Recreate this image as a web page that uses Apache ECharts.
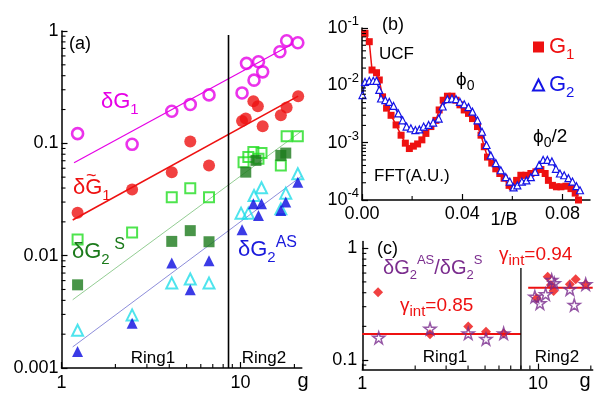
<!DOCTYPE html>
<html>
<head>
<meta charset="utf-8">
<script src="https://cdn.jsdelivr.net/npm/echarts@6/dist/echarts.min.js"></script>
<style>html,body{margin:0;background:#fff}#main{width:600px;height:394px}</style>
</head>
<body>
<div id="main"></div>
<script>
var FONT = "'Liberation Sans', Arial, sans-serif";

// ---- panel (a): fluctuation amplitude vs g ----
var dG1 = [[1.23,0.122],[2.48,0.098],[4.13,0.193],[5.24,0.222],[6.67,0.270],[10.2,0.281],[10.8,0.515],
  [12.6,0.532],[13.3,0.433],[11.9,0.365],[16.6,0.653],[18.1,0.819],[20.9,0.787]];
var dG1t = [[1.23,0.0241],[2.48,0.0388],[4.13,0.0554],[5.24,0.1036],[6.67,0.0636],[10.2,0.158],[10.7,0.166],
  [11.8,0.237],[12.5,0.214],[13.3,0.142],[16.8,0.178],[18.1,0.208],[21.0,0.263]];
var dG2S_open = [[1.23,0.0139],[2.48,0.0161],[4.13,0.0332],[5.24,0.0399],[6.67,0.0332],[10.4,0.068],
  [11.06,0.0755],[11.8,0.0836],[12.6,0.073],[13.1,0.0819],[16.8,0.0636],[18.1,0.1155],[20.9,0.1155]];
var dG2S_full = [[1.23,0.0055],[4.13,0.0134],[5.24,0.0167],[6.67,0.0133],[10.7,0.0554],[12.2,0.0705],
  [16.8,0.0781],[17.9,0.0819]];
var dG2AS_open = [[1.23,0.00217],[2.48,0.00297],[4.13,0.0057],[5.24,0.0062],[6.67,0.0057],[10.07,0.0239],
  [11.06,0.0239],[11.9,0.0343],[13.1,0.0402],[16.8,0.0261],[17.9,0.036],[20.9,0.0536]];
var dG2AS_full = [[1.23,0.0014],[2.48,0.0025],[4.13,0.0086],[5.24,0.00497],[6.67,0.0090],[10.2,0.0170],
  [11.8,0.029],[12.6,0.0228],[13.1,0.029],[16.8,0.0252],[17.9,0.030],[20.9,0.0451]];
var fitG1 = [[1.175,0.0673],[19.5,0.767]];
var fitG1t = [[1.155,0.0208],[21.0,0.263]];
var fitG2S = [[1.155,0.00405],[22,0.129]];
var fitG2AS = [[1.155,0.00154],[22,0.0512]];
var ringA = [[8.57,0.001],[8.57,0.92]];

// ---- panel (b): FFT spectra vs 1/B ----
var fftX1 = [0.0012,0.0029,0.004,0.0058,0.0069,0.0082,0.0098,0.0116,0.0136,0.0156,0.0173,0.0189,0.0205,0.0222,
  0.0239,0.0255,0.0275,0.0295,0.0308,0.0324,0.0341,0.0359,0.0375,0.0391,0.0408,0.0425,0.0441,0.0461,0.0475,
  0.0488,0.0501,0.0518,0.0534,0.055,0.0567,0.0587,0.06,0.0617,0.0634,0.0654,0.0674,0.0694,0.0714,0.0731,
  0.0744,0.076,0.0776,0.0794,0.0814,0.0834,0.0851,0.0864];
var fftG1 = [0.0807,0.0577,0.0185,0.0166,0.0124,0.0063,0.0040,0.0030,0.00204,0.00135,0.00098,0.00079,0.00087,
  0.00095,0.00112,0.00145,0.00191,0.00245,0.00372,0.0055,0.00646,0.00646,0.0055,0.00457,0.00372,0.00324,
  0.00263,0.00191,0.00135,0.00085,0.00056,0.00044,0.00035,0.00029,0.00024,0.00018,0.00017,0.00022,0.00027,
  0.00027,0.00029,0.00031,0.00034,0.00029,0.00022,0.00018,0.00017,0.00017,0.000174,0.000158,0.000132,0.0001];
var fftX2 = [0.0002,0.0012,0.0029,0.0045,0.0058,0.0069,0.0076,0.0093,0.0109,0.0126,0.0145,0.0162,0.0178,0.0195,
  0.0213,0.0229,0.0246,0.0266,0.0284,0.0306,0.0322,0.0341,0.0359,0.0375,0.0391,0.0408,0.0425,0.0441,0.0461,
  0.0479,0.0497,0.0514,0.0534,0.0554,0.0574,0.059,0.0605,0.062,0.0638,0.0656,0.0674,0.0691,0.0707,0.0723,
  0.074,0.0758,0.0774,0.079,0.0807,0.0824,0.084,0.0856,0.087];
var fftG2 = [0.00676,0.01148,0.0120,0.0120,0.0120,0.00832,0.00589,0.0055,0.00513,0.00437,0.00324,0.00245,
  0.00191,0.00178,0.00166,0.0017,0.00191,0.00204,0.00224,0.00263,0.00427,0.00575,0.00589,0.00575,0.00513,
  0.00468,0.00417,0.00347,0.00245,0.00155,0.00091,0.0006,0.00044,0.00033,0.00025,0.00021,0.000166,0.00018,
  0.00021,0.00022,0.00025,0.00031,0.00041,0.0005,0.0005,0.00047,0.00035,0.00029,0.00027,0.00024,0.00021,
  0.000174,0.000148];

// ---- panel (c): ratio vs g ----
var ratioDia = [[1.23,0.404],[2.43,0.170],[4.01,0.199],[5.06,0.179],[6.38,0.173],[9.83,0.357],[11.36,0.557],
  [11.86,0.469],[12.28,0.415],[15.2,0.476],[16.4,0.528],[18.7,0.476]];
var ratioStar = [[1.24,0.158],[2.43,0.190],[4.01,0.173],[5.06,0.154],[6.38,0.173],[9.6,0.369],[10.26,0.322],
  [11.06,0.388],[11.97,0.520],[12.38,0.486],[15.2,0.430],[16.1,0.311],[18.7,0.476]];
var gamma1 = [[1,0.171],[8.0,0.171]];
var gamma2 = [[8.8,0.444],[20.5,0.444]];
var ringC = [[8.0,0.082],[8.0,0.667]];

// minor tick positions
var minorG = [2,3,4,5,6,7,8,9,20];
var minorB = [0.02,0.06];
function decadeTicks(lo, hi) {
  var t = [];
  for (var d = lo; d < hi; d *= 10) for (var k = 2; k <= 9; k++) t.push(+(k * d).toPrecision(3));
  return t;
}

function zip(xs, ys) { return xs.map(function (x, i) { return [x, ys[i]]; }); }

var myChart = echarts.init(document.getElementById('main'));

function mainAxis(grid, type, min, max, extra) {
  var ax = {
    type: type, gridIndex: grid, min: min, max: max, position: extra.pos,
    axisLine: {show: true, onZero: false, lineStyle: {color: '#000', width: 1.5}},
    axisTick: {show: true, inside: true, length: 6, lineStyle: {color: '#000', width: 1.2}},
    axisLabel: {color: '#000', fontSize: 18, fontFamily: FONT, margin: extra.margin || 4,
      showMinLabel: extra.showMin !== false, showMaxLabel: !!extra.showMax, formatter: extra.fmt},
    splitLine: {show: false}
  };
  if (type === 'log') ax.logBase = 10;
  if (type === 'value') ax.interval = extra.interval;
  return ax;
}

// minor ticks drawn through the axes' own scales
function minorTicks(xi, vals, dim, ref, len) {
  return {
    type: 'custom', xAxisIndex: xi, yAxisIndex: xi, silent: true, clip: false, z: 10,
    data: vals.map(function (v) { return dim === 'x' ? [v, ref] : [ref, v]; }),
    renderItem: function (params, api) {
      var cs = params.coordSys;
      var p = api.coord([api.value(0), api.value(1)]);
      var shape = dim === 'x'
        ? {x1: p[0], y1: cs.y + cs.height, x2: p[0], y2: cs.y + cs.height - len}
        : {x1: cs.x, y1: p[1], x2: cs.x + len, y2: p[1]};
      return {type: 'line', shape: shape, style: {stroke: '#000', lineWidth: 1.1}};
    }
  };
}

var supFmt = function (v) { return '{b|10}{e|' + Math.round(Math.log10(v)) + '}'; };

function mkRich(m, s, p) {
  return {
    m: {fontSize: m, fontFamily: FONT, lineHeight: m + 8},
    s: {fontSize: s, fontFamily: FONT, lineHeight: s - 1, verticalAlign: 'bottom'},
    p: {fontSize: p, fontFamily: FONT, lineHeight: p - 1, verticalAlign: 'top'}
  };
}
var rich = mkRich(22, 15, 16);
function txt(x, y, text, color, size, align, r) {
  return {type: 'text', x: x, y: y, z: 100, style: {text: text, fill: color, font: size + 'px ' + FONT,
    textAlign: align || 'left', textVerticalAlign: 'middle', rich: r || rich}};
}

var starPath = 'path://M50,2 L61,36 L97,36 L68,57 L79,92 L50,71 L21,92 L32,57 L3,36 L39,36 Z';

function scat(xi, data, sym, size, color, open, bw) {
  return {type: 'scatter', xAxisIndex: xi, yAxisIndex: xi, data: data, symbol: sym, symbolSize: size,
    itemStyle: open ? {color: 'rgba(255,255,255,0)', borderColor: color, borderWidth: bw || 2.2} : {color: color},
    z: 5};
}
function line(xi, data, color, w) {
  return {type: 'line', xAxisIndex: xi, yAxisIndex: xi, data: data, symbol: 'none',
    lineStyle: {color: color, width: w}, z: 3};
}

var option = {
  animation: false,
  backgroundColor: '#fff',
  grid: [
    {left: 61.5, top: 31, width: 240.3, height: 337},
    {left: 362, top: 28, width: 228, height: 172},
    {left: 362.3, top: 241.5, width: 230.4, height: 128.1}
  ],
  xAxis: [
    mainAxis(0, 'log', 1, 22, {pos: 'bottom', margin: 6}),
    mainAxis(1, 'value', 0, 0.091, {pos: 'bottom', interval: 0.04, margin: 5,
      fmt: function (v) { return v.toFixed(2); }}),
    mainAxis(2, 'log', 1, 20.5, {pos: 'bottom', margin: 5})
  ],
  yAxis: [
    mainAxis(0, 'log', 0.001, 1, {pos: 'left', margin: 3, showMax: true}),
    mainAxis(1, 'log', 0.0001, 0.1, {pos: 'left', margin: 3, fmt: supFmt, showMax: true}),
    mainAxis(2, 'log', 0.082, 1.15, {pos: 'left', margin: 5, showMin: false})
  ],
  legend: {
    left: 527, top: 31, orient: 'vertical', itemGap: 12, itemWidth: 11, itemHeight: 11,
    data: [{name: 'G1', icon: 'rect', textStyle: {color: '#ee1111'}},
           {name: 'G2', icon: 'triangle', textStyle: {color: '#1414e6'}}],
    formatter: function (n) { return '{m|G}{s|' + n.slice(1) + '}'; },
    textStyle: {fontFamily: FONT, rich: rich}
  },
  series: [
    minorTicks(0, minorG, 'x', 0.01, 4),
    minorTicks(0, decadeTicks(0.001, 1), 'y', 2, 4),
    minorTicks(1, minorB, 'x', 0.01, 4),
    minorTicks(1, decadeTicks(0.0001, 0.1), 'y', 0.01, 4),
    minorTicks(2, minorG, 'x', 0.5, 4),
    minorTicks(2, [0.09].concat(decadeTicks(0.1, 1)), 'y', 2, 4),

    line(0, fitG1, '#e600e6', 1.2),
    line(0, fitG1t, '#ee1111', 1.6),
    line(0, fitG2S, '#77c077', 0.8),
    line(0, fitG2AS, '#7070d0', 0.8),
    line(0, ringA, '#000', 1.6),
    scat(0, dG1, 'circle', 11, '#e600e6', true, 2.6),
    scat(0, dG1t, 'circle', 12, '#ee1111', false),
    scat(0, dG2S_open, 'rect', 10, '#22dd22', true, 2),
    scat(0, dG2S_full, 'rect', 11, '#1b7a1b', false),
    scat(0, dG2AS_open, 'triangle', 11, '#22dde8', true, 2),
    scat(0, dG2AS_full, 'triangle', 11, '#0a0ae0', false),

    {type: 'line', name: 'G1', xAxisIndex: 1, yAxisIndex: 1, data: zip(fftX1, fftG1), symbol: 'rect',
      symbolSize: 7, itemStyle: {color: '#ee1111'}, lineStyle: {color: '#ee1111', width: 1.5}, z: 4},
    {type: 'line', name: 'G2', xAxisIndex: 1, yAxisIndex: 1, data: zip(fftX2, fftG2), symbol: 'triangle',
      symbolSize: 7, itemStyle: {color: '#fff', borderColor: '#1414e6', borderWidth: 1.2},
      lineStyle: {color: '#1414e6', width: 1.5}, z: 5},

    line(2, gamma1, '#ee1111', 2),
    line(2, gamma2, '#ee1111', 2),
    line(2, ringC, '#000', 1.3),
    scat(2, ratioDia, 'diamond', 10, '#ee1111', false),
    scat(2, ratioStar, starPath, 12, '#7b2d8e', true, 1.5)
  ],
  graphic: [
    txt(69, 44, '(a)', '#000', 18),
    txt(101, 102, '{m|δG}{s|1}', '#e600e6', 22),
    txt(73, 188, '{m|δG}{s|1}', '#ee1111', 22),
    txt(86, 176, '~', '#ee1111', 18),
    txt(72, 252, '{m|δG}{s|2}{p| S}', '#1b7a1b', 22),
    txt(238, 250, '{m|δG}{s|2}{p|AS}', '#1a1adc', 22),
    txt(153, 358, 'Ring1', '#000', 17, 'center'),
    txt(264, 358, 'Ring2', '#000', 17, 'center'),
    txt(303, 381, 'g', '#000', 20, 'center'),

    txt(382, 25, '(b)', '#000', 18),
    txt(379, 54, 'UCF', '#000', 17),
    txt(456, 80, '{m|ϕ}{s|0}', '#000', 19, 'left', mkRich(19, 14, 14)),
    txt(533, 137, '{m|ϕ}{s|0}{m|/2}', '#000', 19, 'left', mkRich(19, 14, 14)),
    txt(374, 176, 'FFT(A.U.)', '#000', 17),
    txt(504, 220, '1/B', '#000', 18, 'center'),

    txt(377, 249, '(c)', '#000', 18),
    txt(383, 268, '{m|δG}{s|2}{p|AS}{m|/δG}{s|2}{p|S}', '#7b2d8e', 20, 'left', mkRich(20, 13, 13)),
    txt(400, 306, '{m|γ}{s|int}{m|=0.85}', '#ee1111', 19, 'left', mkRich(19, 15, 15)),
    txt(499, 255, '{m|γ}{s|int}{m|=0.94}', '#ee1111', 19, 'left', mkRich(19, 15, 15)),
    txt(445, 357, 'Ring1', '#000', 17, 'center'),
    txt(557, 357, 'Ring2', '#000', 17, 'center'),
    txt(585, 381, 'g', '#000', 20, 'center')
  ]
};

// y axis label rich for panel (b)
option.yAxis[1].axisLabel.rich = {
  b: {fontSize: 18, fontFamily: FONT, lineHeight: 26},
  e: {fontSize: 13, fontFamily: FONT, lineHeight: 13, verticalAlign: 'top'}
};

myChart.setOption(option);
</script>
</body>
</html>
